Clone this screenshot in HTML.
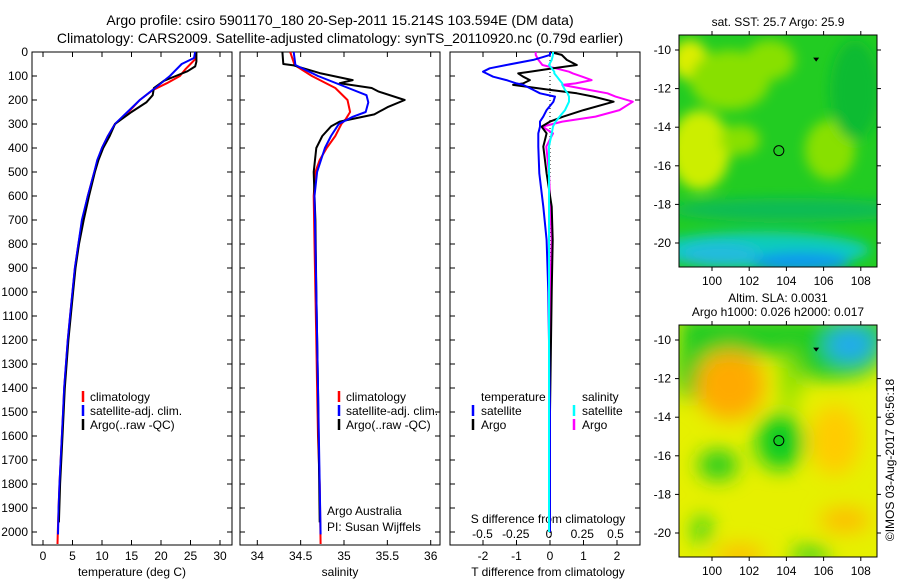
<!DOCTYPE html>
<html><head><meta charset="utf-8">
<style>
html,body{margin:0;padding:0;background:#fff;}
svg{display:block;font-family:"Liberation Sans",sans-serif;}
text{fill:#000;}
</style></head>
<body>
<svg id="fig" width="900" height="580" viewBox="0 0 900 580" xmlns="http://www.w3.org/2000/svg">
<text x="340" y="25" font-size="14" text-anchor="middle">Argo profile: csiro 5901170_180 20-Sep-2011 15.214S 103.594E (DM data)</text>
<text x="340" y="43" font-size="14" text-anchor="middle">Climatology: CARS2009. Satellite-adjusted climatology: synTS_20110920.nc (0.79d earlier)</text>
<g id="g"></g>
<defs>
<clipPath id="clipA"><rect x="679" y="35" width="198" height="232"/></clipPath>
<clipPath id="clipB"><rect x="679" y="325" width="198" height="232"/></clipPath>
<filter id="blur1" x="-50%" y="-50%" width="200%" height="200%"><feGaussianBlur stdDeviation="6"/></filter>
<filter id="blur2" x="-50%" y="-50%" width="200%" height="200%"><feGaussianBlur stdDeviation="10"/></filter>
</defs>
<g clip-path="url(#clipA)">
<rect x="679" y="35" width="198" height="232" fill="#22cc22"/>
<g filter="url(#blur1)">
<ellipse cx="700" cy="150" rx="30" ry="40" fill="#ccee00"/>
<ellipse cx="690" cy="60" rx="18" ry="20" fill="#ddee00"/>
<ellipse cx="730" cy="80" rx="40" ry="30" fill="#88e000"/>
<ellipse cx="770" cy="60" rx="25" ry="20" fill="#88e000"/>
<ellipse cx="830" cy="150" rx="25" ry="30" fill="#88e000"/>
<ellipse cx="740" cy="140" rx="20" ry="15" fill="#88e000"/>
<ellipse cx="855" cy="90" rx="25" ry="50" fill="#11bb33"/>
<ellipse cx="790" cy="210" rx="120" ry="12" fill="#11bb55"/>
<ellipse cx="760" cy="250" rx="110" ry="18" fill="#11ccbb"/>
<ellipse cx="800" cy="262" rx="50" ry="10" fill="#1199ee"/>
<ellipse cx="720" cy="255" rx="40" ry="12" fill="#22bbdd"/>
</g>
</g>
<g clip-path="url(#clipB)">
<rect x="679" y="325" width="198" height="232" fill="#e6f000"/>
<g filter="url(#blur2)">
<rect x="679" y="315" width="210" height="40" fill="#22cc22"/>
<ellipse cx="690" cy="370" rx="15" ry="30" fill="#22cc22"/>
<ellipse cx="830" cy="360" rx="50" ry="20" fill="#22cc22"/>
<ellipse cx="850" cy="345" rx="25" ry="18" fill="#22aaee"/>
<ellipse cx="730" cy="385" rx="35" ry="35" fill="#ffaa00"/>
<ellipse cx="780" cy="442" rx="24" ry="28" fill="#11cc22"/>
<ellipse cx="718" cy="465" rx="20" ry="15" fill="#22cc22"/>
<ellipse cx="702" cy="530" rx="8" ry="14" fill="#11cc22"/>
<ellipse cx="835" cy="440" rx="25" ry="35" fill="#ffcc00"/>
<ellipse cx="845" cy="520" rx="25" ry="12" fill="#ffbb00"/>
<ellipse cx="740" cy="555" rx="25" ry="10" fill="#ffbb00"/>
<ellipse cx="810" cy="555" rx="20" ry="8" fill="#22cc22"/>
<ellipse cx="790" cy="380" rx="10" ry="30" fill="#88e000"/>
</g>
</g>
<text transform="translate(894,460) rotate(-90)" font-size="12" text-anchor="middle">©IMOS 03-Aug-2017 06:56:18</text>
</svg>
<script>
// ---- data ----
const depthTicks=[0,100,200,300,400,500,600,700,800,900,1000,1100,1200,1300,1400,1500,1600,1700,1800,1900,2000];
const tempTicks=[0,5,10,15,20,25,30];
const salTicks=[34,34.5,35,35.5,36];
const tdiffTicks=[-2,-1,0,1,2];
const sdiffTicks=[-0.5,-0.25,0,0.25,0.5];
const lonTicks=[100,102,104,106,108];
const latTicks=[-10,-12,-14,-16,-18,-20];

const climTdepth=[0,30,50,70,100,130,160,200,250,300,350,400,450,500,600,700,800,900,1000,1100,1200,1300,1400,1500,1600,1700,1800,1900,2000,2050];
const climT=[25.8,25.8,25,24.2,23.2,21,18.5,16.4,14.5,12.2,11,10,9.3,8.7,7.6,6.7,6,5.4,5,4.6,4.2,3.9,3.6,3.4,3.2,3,2.8,2.65,2.5,2.45];
const satTdepth=[0,25,50,80,100,150,200,250,300,350,400,450,500,600,700,800,900,1000,1100,1200,1300,1400,1500,1600,1700,1800,1900,2010];
const satT=[25.8,25.6,23.5,22.3,21.5,19,16.4,14.3,12.2,11,10,9.2,8.7,7.6,6.6,6,5.4,5,4.6,4.2,3.9,3.6,3.4,3.2,3,2.8,2.65,2.55];
const argoTdepth=[0,40,60,80,100,120,150,180,210,250,300,350,400,450,500,600,700,800,900,1000,1200,1400,1600,1800,1960];
const argoT=[26,26,25.8,24.5,22.5,20.5,18.8,18.6,17.5,15,12.2,11.3,10.2,9.4,8.8,7.8,6.9,6.1,5.5,5.1,4.3,3.7,3.3,2.9,2.7];

const climSdepth=[0,54,100,150,200,250,280,300,350,400,450,500,600,800,1000,1200,1400,1600,1800,2050];
const climS=[34.38,34.43,34.63,34.9,35.04,35.07,35.02,34.97,34.9,34.8,34.72,34.67,34.65,34.66,34.67,34.68,34.69,34.7,34.72,34.73];
const satSdepth=[0,54,100,150,180,210,250,270,300,350,400,500,600,800,1000,1400,1800,2010];
const satS=[34.42,34.44,34.7,35.05,35.26,35.28,35.25,35.1,34.94,34.85,34.78,34.69,34.66,34.67,34.68,34.7,34.72,34.73];
const argoSdepth=[0,50,56,88,117,130,150,165,200,230,260,290,310,350,400,500,600,700,1000,1400,1960];
const argoS=[34.29,34.3,34.42,34.72,35.1,34.95,35.32,35.4,35.7,35.5,35.35,34.95,34.85,34.75,34.68,34.65,34.66,34.67,34.68,34.7,34.72];

const dDepth=[0,12,33,54,68,82,89,103,117,131,137,158,172,186,207,242,269,290,311,339,394,506,644,783,1000,1500,2000];
const tdiffSat=[0,0,-0.5,-1.3,-1.8,-2,-1.9,-1.7,-1.3,-1.0,-0.8,-0.5,-0.3,0.15,0.1,-0.1,-0.2,-0.3,-0.3,-0.35,-0.35,-0.32,-0.2,-0.1,-0.05,0,0];
const tdiffArgo=[0,0.35,0.5,0.8,0.1,-0.6,-0.95,-0.8,-0.6,-0.8,-1.1,0,0.8,1.3,1.9,1.0,0.4,0,-0.25,-0.1,-0.2,-0.1,0.05,0.08,0.05,0,0];
const sdiffArgo=[-0.1,-0.1,-0.08,-0.05,0.05,0.15,0.18,0.25,0.32,0.2,0.1,0.3,0.44,0.5,0.63,0.53,0.35,0.1,-0.05,0.03,-0.02,0,0.01,0.02,0.01,0,0];
const sdiffSat=[0.03,0.03,0.02,0,0.02,0.04,0.04,0.06,0.08,0.1,0.1,0.12,0.14,0.15,0.15,0.12,0.08,0.05,0.03,0.02,0,0,0,0,0,0,0];

const floatLon=103.594, floatLat=-15.214;

// ---- axes ----
const NS="http://www.w3.org/2000/svg";
const G=document.getElementById('g');
const FIG=document.getElementById('fig');
function mk(tag,attrs,parent){const e=document.createElementNS(NS,tag);for(const k in attrs)e.setAttribute(k,attrs[k]);(parent||G).appendChild(e);return e;}
const yD=d=>52+d*0.24;
const xT=v=>43+v*5.9;
const xS=v=>257.3+(v-34)*86.7;
const xTD=v=>550+v*33.5;
const xSD=v=>549+v*133;
const xLon=v=>712+(v-100)*18.6;
const yLat=v=>50+(-10-v)*19.3;
const yTop=52,yBot=545;

function panel(x0,x1,name){
  const r=mk('rect',{x:x0,y:yTop,width:x1-x0,height:yBot-yTop,fill:'none',stroke:'#000','stroke-width':1});
  
  
  depthTicks.forEach(d=>{
    const t1=mk('line',{x1:x0,x2:x0+5,y1:yD(d),y2:yD(d),stroke:'#000'});
    
    
    const t2=mk('line',{x1:x1-5,x2:x1,y1:yD(d),y2:yD(d),stroke:'#000'});
    
    
  });
}
function xticks(vals,fx,labels,ly,name){
  vals.forEach((v,i)=>{
    const a=mk('line',{x1:fx(v),x2:fx(v),y1:yBot,y2:yBot-5,stroke:'#000'});
    
    
    const b=mk('line',{x1:fx(v),x2:fx(v),y1:yTop,y2:yTop+5,stroke:'#000'});
    
    
    if(labels){const t=mk('text',{x:fx(v),y:ly,'font-size':12,'text-anchor':'middle'});t.textContent=labels[i];
    
    }
  });
}
function line(depths,vals,fx,color,name,w){
  const pts=depths.map((d,i)=>fx(vals[i]).toFixed(1)+','+yD(d).toFixed(1)).join(' ');
  const p=mk('polyline',{points:pts,fill:'none',stroke:color,'stroke-width':w||2,'stroke-linejoin':'round'});
  
  
}
function txt(x,y,s,name,size,anchor){const t=mk('text',{x:x,y:y,'font-size':size||12,'text-anchor':anchor||'start'});t.textContent=s;
  
  return t;}
function mark(x,y,color,name){const l=mk('line',{x1:x,x2:x,y1:y-10,y2:y+1,stroke:color,'stroke-width':2.5});
  
  }

// panel 1
panel(32,232,'temperature-panel');
depthTicks.forEach(d=>{txt(28,yD(d)+4,String(d),'depth-tick-label',12,'end');});
xticks(tempTicks,xT,tempTicks.map(String),560,'temperature');
txt(132,576,'temperature (deg C)','temperature-axis-title',12,'middle');
line(climTdepth,climT,xT,'#ff0000','climatology-temperature-line');
line(satTdepth,satT,xT,'#0000ff','satellite-temperature-line');
line(argoTdepth,argoT,xT,'#000000','argo-temperature-line');
line(satTdepth,satT,xT,'#0000ff','satellite-temperature-line-top',1.5);
mark(83,401,'#ff0000','legend-climatology-marker');txt(90,401,'climatology','legend-climatology');
mark(83,415,'#0000ff','legend-satellite-marker');txt(90,415,'satellite-adj. clim.','legend-satellite');
mark(83,429,'#000000','legend-argo-marker');txt(90,429,'Argo(..raw -QC)','legend-argo');

// panel 2
panel(240,440,'salinity-panel');
xticks(salTicks,xS,salTicks.map(String),560,'salinity');
txt(340,576,'salinity','salinity-axis-title',12,'middle');
line(climSdepth,climS,xS,'#ff0000','climatology-salinity-line');
line(argoSdepth,argoS,xS,'#000000','argo-salinity-line');
line(satSdepth,satS,xS,'#0000ff','satellite-salinity-line');
mark(339,401,'#ff0000','legend-climatology-marker-2');txt(346,401,'climatology','legend-climatology-2');
mark(339,415,'#0000ff','legend-satellite-marker-2');txt(346,415,'satellite-adj. clim.','legend-satellite-2');
mark(339,429,'#000000','legend-argo-marker-2');txt(346,429,'Argo(..raw -QC)','legend-argo-2');
txt(327,515,'Argo Australia','argo-australia-label');
txt(327,531,'PI: Susan Wijffels','pi-label');

// panel 3
panel(450,640,'difference-panel');
xticks(tdiffTicks,xTD,tdiffTicks.map(String),560,'tdiff');
sdiffTicks.forEach(v=>{txt(xSD(v),538,String(v),'sdiff-tick-label',12,'middle');});
txt(548,523,'S difference from climatology','sdiff-axis-title',12,'middle');
txt(548,576,'T difference from climatology','tdiff-axis-title',12,'middle');
const zl=mk('line',{x1:550,x2:550,y1:yTop,y2:yBot,stroke:'#000','stroke-dasharray':'1,3'});


line(dDepth,sdiffArgo,xSD,'#ff00ff','argo-salinity-diff-line');
line(dDepth,tdiffArgo,xTD,'#000000','argo-temperature-diff-line');
line(dDepth,tdiffSat,xTD,'#0000ff','satellite-temperature-diff-line');
line(dDepth,sdiffSat,xSD,'#00ffff','satellite-salinity-diff-line');
txt(481,401,'temperature','legend-temperature-heading');
txt(582,401,'salinity','legend-salinity-heading');
mark(473,415,'#0000ff','legend-tsat-marker');txt(481,415,'satellite','legend-tsat');
mark(473,429,'#000000','legend-targo-marker');txt(481,429,'Argo','legend-targo');
mark(574,415,'#00ffff','legend-ssat-marker');txt(582,415,'satellite','legend-ssat');
mark(574,429,'#ff00ff','legend-sargo-marker');txt(582,429,'Argo','legend-sargo');

// maps
function mapAxes(y0,dy,name){
  const r=mk('rect',{x:679,y:y0,width:198,height:232,fill:'none',stroke:'#000'},FIG);
  
  
  lonTicks.forEach(v=>{
    const a=mk('line',{x1:xLon(v),x2:xLon(v),y1:y0,y2:y0-4,stroke:'#000'},FIG);
    
    
    const b=mk('line',{x1:xLon(v),x2:xLon(v),y1:y0+232,y2:y0+236,stroke:'#000'},FIG);
    
    
    const t=mk('text',{x:xLon(v),y:y0+250,'font-size':12,'text-anchor':'middle'},FIG);t.textContent=v;
    
    
  });
  latTicks.forEach(v=>{
    const y=yLat(v)+dy;
    const a=mk('line',{x1:675,x2:679,y1:y,y2:y,stroke:'#000'},FIG);
    
    
    const b=mk('line',{x1:877,x2:881,y1:y,y2:y,stroke:'#000'},FIG);
    
    
    const t=mk('text',{x:671,y:y+4,'font-size':12,'text-anchor':'end'},FIG);t.textContent=v;
    
    
  });
  const c=mk('circle',{cx:xLon(floatLon),cy:yLat(floatLat)+dy,r:5,fill:'none',stroke:'#000'},FIG);
  
  
  const px=xLon(105.6), py=yLat(-10.5)+dy;
  const m=mk('polygon',{points:`${px-3},${py-2} ${px+3},${py-2} ${px},${py+2}`,fill:'#000'},FIG);
  
  
}
mapAxes(35,0,'sst-map');
mapAxes(325,290,'sla-map');
const t1=mk('text',{x:778,y:26,'font-size':12,'text-anchor':'middle'},FIG);t1.textContent='sat. SST: 25.7 Argo: 25.9';


const t2=mk('text',{x:778,y:302,'font-size':12,'text-anchor':'middle'},FIG);t2.textContent='Altim. SLA: 0.0031';


const t3=mk('text',{x:778,y:316,'font-size':12,'text-anchor':'middle'},FIG);t3.textContent='Argo h1000: 0.026 h2000: 0.017';


</script>
</body></html>
